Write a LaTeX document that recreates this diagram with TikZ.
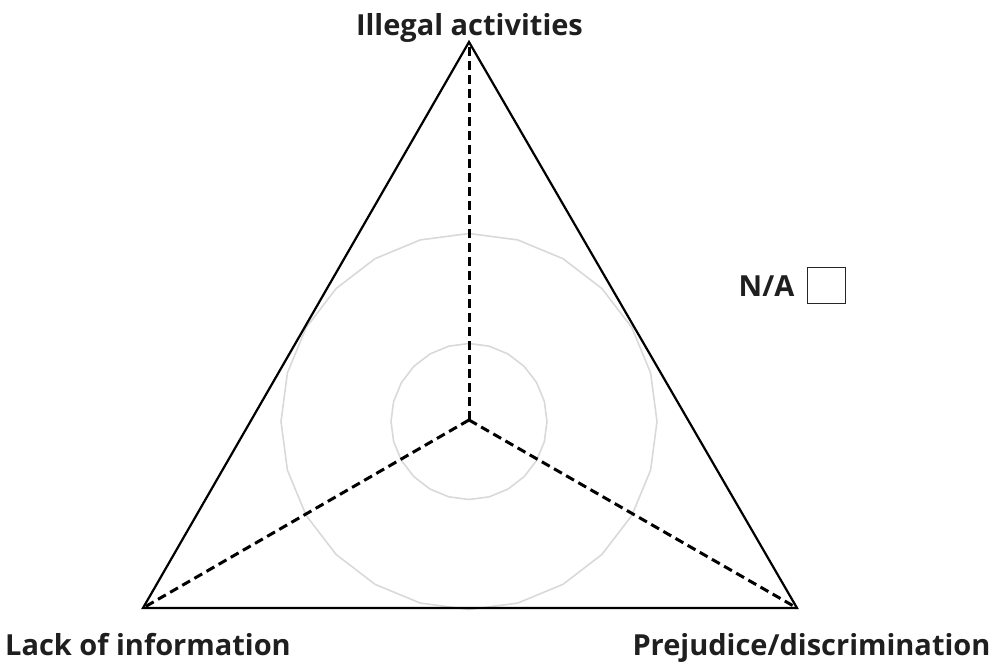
\documentclass[tikz,border=0pt]{standalone}
\usepackage{fontspec}
\setmainfont{Open Sans}
\begin{document}
\begin{tikzpicture}[x=1pt,y=-1pt,
  lbl/.style={font=\bfseries\fontsize{29}{34}\selectfont, text=black!88, inner sep=0pt, anchor=base},
  edge/.style={line width=2.2pt, line join=miter},
  spoke/.style={line width=3pt, dash pattern=on 9pt off 5pt},
  ring/.style={line width=1.6pt, draw=black!15}]
\useasboundingbox (0,0) rectangle (999,663);
\coordinate (c) at (469,420);
\coordinate (t) at (469,42);
\coordinate (l) at (143,608);
\coordinate (r) at (797,608);
% guide rings, drawn as 24-gons
\foreach \rad in {78,188}{
  \draw[ring] plot[samples=25, domain=0:360, variable=\a] ({469+\rad*cos(\a)},{421.5+\rad*sin(\a)}) -- cycle;
}
% spokes from the centre to the corners
\draw[spoke] (c) -- (t);
\draw[spoke] (c) -- (l);
\draw[spoke] (c) -- (r);
% outer triangle
\draw[edge] (t) -- (r) -- (l) -- cycle;
% corner labels
\node[lbl] (lt) at (469.5,36) {Illegal activities};
\node[lbl] (ll) at (148,655) {Lack of information};
\node[lbl] (lr) at (811.5,655) {Prejudice/discrimination};
% N/A tick box
\node[lbl] (na) at (766.5,296.5) {N/A};
\node[draw=black!85, line width=1.5pt, minimum width=38pt, minimum height=36pt, inner sep=0pt] (box) at (826.5,285.5) {};
\end{tikzpicture}
\end{document}
